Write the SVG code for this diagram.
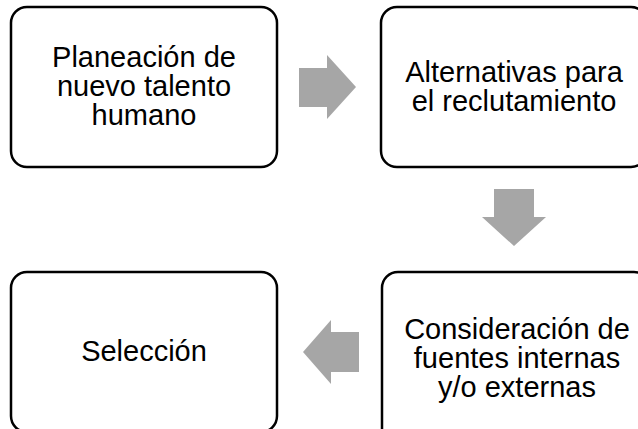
<svg xmlns="http://www.w3.org/2000/svg" width="638" height="429" viewBox="0 0 638 429">
<style>
.box{fill:#ffffff;stroke:#000000;stroke-width:2.5}
.lbl{font-family:"Liberation Sans",Arial,sans-serif;font-size:29px;fill:#000000;text-anchor:middle}
.arr{fill:#A6A6A6}
</style>
<rect width="638" height="429" fill="#ffffff"/>
<g id="connectors">
<polygon class="arr" points="299,68 327,68 327,55 356,87 327,119 327,107 299,107"/>
<polygon class="arr" points="494,189 534,189 534,217 546,217 514,246 482,217 494,217"/>
<polygon class="arr" points="359,332 331,332 331,320 303,352 331,384 331,372 359,372"/>
</g>
<g id="node1">
<rect class="box" x="11" y="7" width="266" height="160" rx="16"/>
<text class="lbl" x="144" y="67">Planeación de</text>
<text class="lbl" x="144" y="96">nuevo talento</text>
<text class="lbl" x="144" y="125">humano</text>
</g>
<g id="node2">
<rect class="box" x="381" y="7" width="266" height="160" rx="16"/>
<text class="lbl" x="514" y="82">Alternativas para</text>
<text class="lbl" x="514" y="111">el reclutamiento</text>
</g>
<g id="node3">
<rect class="box" x="382" y="272" width="268" height="172" rx="16"/>
<text class="lbl" x="517" y="339">Consideración de</text>
<text class="lbl" x="517" y="368">fuentes internas</text>
<text class="lbl" x="517" y="397">y/o externas</text>
</g>
<g id="node4">
<rect class="box" x="11" y="272" width="266" height="160" rx="16"/>
<text class="lbl" x="144" y="361">Selección</text>
</g>
</svg>
